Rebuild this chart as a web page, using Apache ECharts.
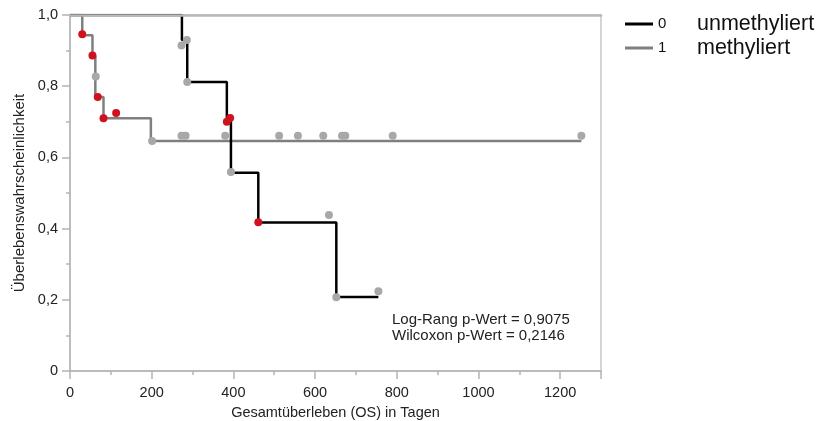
<!DOCTYPE html>
<html><head><meta charset="utf-8">
<script src="https://cdn.jsdelivr.net/npm/echarts@6/dist/echarts.min.js"></script>
<style>html,body{margin:0;padding:0;background:#fff}#c{width:821px;height:421px}</style>
</head><body><div id="c"></div>
<script>
// Group keys and legend labels
const groupNames = ['0', '1'];
const groupLabels = ['unmethyliert', 'methyliert'];
// Kaplan-Meier step curves [days, survival]
const curve0 = [[0, 1], [274, 0.93], [287, 0.812], [384, 0.70], [394, 0.557], [461, 0.417], [652, 0.208], [755, 0.208]];
const curve1 = [[0, 1], [30, 0.943], [55, 0.884], [62, 0.770], [82, 0.710], [198, 0.646], [1252, 0.646]];
// Markers
const redMarks = [[30, 0.946], [55, 0.886], [68, 0.770], [82, 0.710], [113, 0.725], [384, 0.700], [392, 0.711], [461, 0.418]];
const grayMarks = [[63, 0.827], [201, 0.646], [273, 0.914], [286, 0.930], [287, 0.812],
  [273, 0.661], [283, 0.661], [380, 0.661], [512, 0.661], [558, 0.661], [620, 0.661], [666, 0.661], [674, 0.661], [790, 0.661], [1252, 0.661],
  [394, 0.559], [634, 0.438], [652, 0.207], [755, 0.224]];
const statLines = ['Log-Rang p-Wert = 0,9075', 'Wilcoxon p-Wert = 0,2146'];
const xName = 'Gesamtüberleben (OS) in Tagen';
const yName = 'Überlebenswahrscheinlichkeit';

const FONT = "'Liberation Sans', Arial, Helvetica, sans-serif";
const axisGray = '#b4b4b4';
const chart = echarts.init(document.getElementById('c'), null, {renderer: 'canvas'});
chart.setOption({
  animation: false,
  textStyle: {fontFamily: FONT},
  grid: {left: 70, right: 220, top: 15, bottom: 50, show: true, borderColor: '#c8c8c8', borderWidth: 1.5,
         backgroundColor: 'transparent', containLabel: false, outerBoundsMode: 'none'},
  legend: {
    orient: 'vertical', left: 620, top: 8, itemWidth: 28, itemHeight: 3, itemGap: 2, icon: 'rect',
    data: groupNames,
    formatter: n => `{n|${n}}{t|${groupLabels[+n]}}`,
    textStyle: {rich: {
      n: {fontSize: 15, width: 39, lineHeight: 24, color: '#111', fontFamily: FONT},
      t: {fontSize: 21.5, lineHeight: 24, color: '#111', fontFamily: FONT}
    }}
  },
  xAxis: [{
    type: 'value', min: 0, max: 1300, interval: 200,
    name: xName, nameLocation: 'middle', nameGap: 34,
    nameTextStyle: {fontSize: 14.5, color: '#222'},
    axisLine: {lineStyle: {color: axisGray, width: 1.5}},
    axisTick: {show: true, length: 8, lineStyle: {color: axisGray, width: 1.5}},
    minorTick: {show: true, splitNumber: 2, length: 4, lineStyle: {color: axisGray, width: 1.5}},
    axisLabel: {fontSize: 14.5, color: '#222', margin: 14, showMaxLabel: false, formatter: v => String(v)},
    splitLine: {show: false}
  }, {
    type: 'value', min: 0, max: 1300, position: 'top', z: 10,
    axisLine: {show: true, lineStyle: {color: '#b8b8b8', width: 2.5}},
    axisTick: {show: false}, axisLabel: {show: false}, splitLine: {show: false}
  }],
  yAxis: {
    type: 'value', min: 0, max: 1, interval: 0.2,
    name: yName, nameLocation: 'middle', nameGap: 40,
    nameTextStyle: {fontSize: 15, color: '#222'},
    axisLine: {show: true, lineStyle: {color: axisGray, width: 1.5}},
    axisTick: {show: true, length: 8, lineStyle: {color: axisGray, width: 1.5}},
    minorTick: {show: true, splitNumber: 2, length: 4, lineStyle: {color: axisGray, width: 1.5}},
    axisLabel: {fontSize: 14.5, color: '#222', margin: 12, formatter: v => v === 0 ? '0' : v.toFixed(1).replace('.', ',')},
    splitLine: {show: false}
  },
  series: [
    {name: '0', type: 'line', step: 'end', data: curve0, showSymbol: false, z: 3,
     itemStyle: {color: '#000'}, lineStyle: {color: '#000', width: 2.5}},
    {name: '1', type: 'line', step: 'end', data: curve1, showSymbol: false, z: 2,
     itemStyle: {color: '#7f7f7f'}, lineStyle: {color: '#7f7f7f', width: 2.5}},
    {name: 'zensiert', type: 'scatter', data: grayMarks, symbolSize: 8, z: 4,
     itemStyle: {color: '#a8a8a8', opacity: 1}},
    {name: 'Ereignis', type: 'scatter', data: redMarks, symbolSize: 8, z: 5,
     itemStyle: {color: '#d0121f', opacity: 1}}
  ],
  graphic: [{
    type: 'text', left: 392, top: 312, z: 20,
    style: {text: statLines.join('\n'), font: `15px ${FONT}`, lineHeight: 16, fill: '#222'}
  }]
});
</script></body></html>
